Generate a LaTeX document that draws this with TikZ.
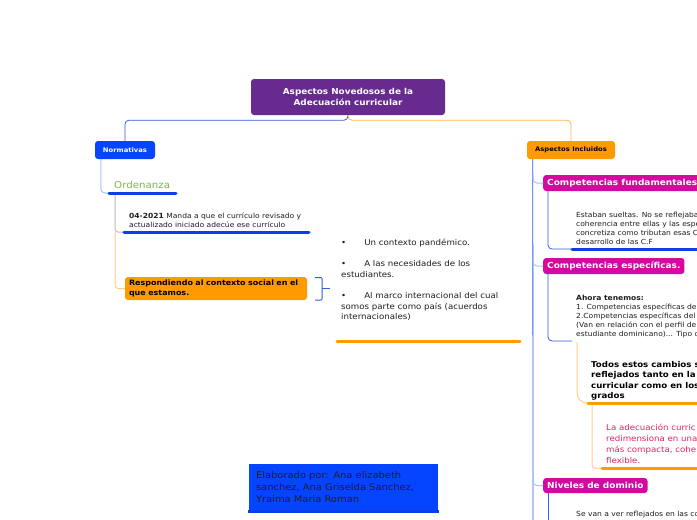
\documentclass[tikz,border=0pt]{standalone}
\usepackage{fontspec}
\setmainfont{DejaVu Sans}[FakeStretch=1.08]
\usetikzlibrary{calc}
\definecolor{rootpurple}{HTML}{672A8E}
\definecolor{nblue}{HTML}{0545FF}
\definecolor{ulblue}{HTML}{0A3FE8}
\definecolor{lineblue}{HTML}{2F5FE0}
\definecolor{lightblue}{HTML}{A8BFFF}
\definecolor{orange1}{HTML}{FF9A00}
\definecolor{lorange}{HTML}{FFCF8A}
\definecolor{lineorange}{HTML}{FFB44A}
\definecolor{magenta1}{HTML}{D20A9F}
\definecolor{pinktext}{HTML}{E0245E}
\definecolor{ordgreen}{HTML}{7DB54A}
\definecolor{graybrown}{HTML}{C8B8B8}
\definecolor{darktext}{HTML}{1E1E1E}
\begin{document}
\begin{tikzpicture}[x=1pt,y=-1pt,
  box/.style={rounded corners=3pt, inner sep=0pt, align=center},
  txt/.style={anchor=base west, inner sep=0pt, text=darktext, font=\fontsize{7}{8}\selectfont},
  txtb/.style={anchor=base west, inner sep=0pt, text=darktext, font=\fontsize{8}{10}\selectfont},
  tdtxt/.style={anchor=base west, inner sep=0pt, text=black, font=\bfseries\fontsize{8}{10}\selectfont},
  latxt/.style={anchor=base west, inner sep=0pt, text=pinktext, font=\fontsize{8}{10}\selectfont},
  uline/.style={line width=3pt, line cap=round},
  thinb/.style={draw=lineblue, line width=0.8pt},
  thinlb/.style={draw=lightblue, line width=1pt},
  thino/.style={draw=lineorange, line width=0.8pt},
  thinlo/.style={draw=lorange, line width=1pt},
  magbox/.style={box, fill=magenta1, anchor=west, minimum height=16pt, inner xsep=4pt, text=white, font=\bfseries\fontsize{8.3}{10}\selectfont}
]
\useasboundingbox (0,0) rectangle (697,520);
\fill[white] (0,0) rectangle (697,520);
\begin{scope}
\clip (0,0) rectangle (697,520);

% main nodes
\node[box, fill=rootpurple, minimum width=194pt, minimum height=36pt, text=white,
  font=\bfseries\fontsize{8.2}{11}\selectfont] (root) at (348,97) {Aspectos Novedosos de la\\Adecuación curricular};
\node[box, fill=nblue, minimum width=60pt, minimum height=18pt, text=white,
  font=\bfseries\fontsize{6.3}{8}\selectfont] (norm) at (125,150) {Normativas};
\node[box, fill=orange1, minimum width=88pt, minimum height=18pt, text=black,
  font=\bfseries\fontsize{6.3}{8}\selectfont] (asp) at (571,150) {Aspectos Incluidos};

% root connectors
\draw[thinb, rounded corners=4pt] (root.south) -- ++(0,5) -| (norm.north);
\draw[thino, rounded corners=4pt] (root.south) -- ++(0,5) -| (asp.north);

% ---- left branch
\node[anchor=base west, inner sep=0pt, text=ordgreen, font=\fontsize{9.5}{11}\selectfont] (ord) at (114,188) {Ordenanza};
\coordinate (normS) at ($(norm.south west)+(6,0)$);
\coordinate (ordL) at (109,193);
\coordinate (ordR) at (176,193);
\coordinate (ordS) at (115,193);
\coordinate (ordM) at (115,232);
\coordinate (n1L) at (124,232);
\coordinate (n1R) at (309,232);
\draw[thinlb, rounded corners=4pt] (normS) |- (ordL);
\draw[draw=graybrown, line width=1pt, rounded corners=3pt] (ordS) |- (n1L);

\node[txt] (n1a) at (129,218) {\textbf{04-2021} Manda a que el currículo revisado y};
\node[txt] (n1b) at (129,227) {actualizado iniciado adecúe ese currículo};

\node[box, fill=orange1, minimum width=182pt, minimum height=23pt, align=left, text width=174pt,
  text=black, font=\bfseries\fontsize{7.4}{9.6}\selectfont] (resp) at (216,288.5) {Respondiendo al contexto social en el\\que estamos.};
\draw[thinlo, rounded corners=3pt] (ordM) |- (resp.west);

\draw[uline, ulblue] (ordL) -- (ordR);
\draw[uline, ulblue] (n1L) -- (n1R);

% bracket
\coordinate (brT) at (315,277.5);
\coordinate (brB) at (315,300);
\coordinate (brTR) at (322,277.5);
\coordinate (brBR) at (322,300);
\coordinate (brM) at (322,288.5);
\coordinate (brTip) at (330,288.5);
\draw[draw=lineblue, line width=1pt, rounded corners=1pt] (brT) -- (brTR) -- (brBR) -- (brB);
\draw[draw=lineblue, line width=1pt] (brM) -- (brTip);

% bullets
\node[txtb] (b1) at (341,245) {•\hspace{18pt}Un contexto pandémico.};
\node[txtb] (b2) at (341,266) {•\hspace{18pt}A las necesidades de los};
\node[txtb] (b3) at (341,277) {estudiantes.};
\node[txtb] (b4) at (341,298) {•\hspace{18pt}Al marco internacional del cual};
\node[txtb] (b5) at (341,309) {somos parte como país (acuerdos};
\node[txtb] (b6) at (341,319) {internacionales)};
\coordinate (bulL) at (337,341);
\coordinate (bulR) at (520,341);
\draw[uline, orange1] (bulL) -- (bulR);

% ---- right branch
\coordinate (aspS) at ($(asp.south west)+(6,0)$);
\coordinate (aspEnd) at (533,525);
\draw[thinb] (aspS) -- (aspEnd);

\node[magbox] (cf) at (543,183) {Competencias fundamentales:};
\node[magbox] (ce) at (543,266) {Competencias específicas.};
\node[magbox, minimum height=15pt] (nd) at (543,485.5) {Niveles de dominio};

\coordinate (cfB) at (533,174);
\coordinate (ceB) at (533,257);
\coordinate (ndB) at (533,477);
\draw[thinlb, rounded corners=4pt] (cfB) |- (cf.west);
\draw[thinlb, rounded corners=4pt] (ceB) |- (ce.west);
\draw[thinlb, rounded corners=4pt] (ndB) |- (nd.west);

% cf content
\coordinate (cfV) at (548,191);
\coordinate (cfUL) at (572,249);
\coordinate (cfUR) at (705,249);
\draw[thinb, rounded corners=4pt] (cfV) |- (cfUL);
\node[txt] (cf1) at (576,217) {Estaban sueltas. No se reflejaba};
\node[txt] (cf2) at (576,226) {coherencia entre ellas y las espe};
\node[txt] (cf3) at (576,235) {concretiza como tributan esas C};
\node[txt] (cf4) at (576,244) {desarrollo de las C.F};
\draw[uline, ulblue] (cfUL) -- (cfUR);

% ce content
\coordinate (ceV) at (548,274);
\coordinate (ceUL) at (572,341);
\coordinate (ceUR) at (705,341);
\draw[thinb, rounded corners=4pt] (ceV) |- (ceUL);
\node[txt] (ce1) at (576,300) {\textbf{Ahora tenemos:}};
\node[txt] (ce2) at (576,309) {1. Competencias específicas del};
\node[txt] (ce3) at (576,318) {2.Competencias específicas del};
\node[txt] (ce4) at (576,327) {(Van en relación con el perfil de};
\node[txt] (ce5) at (576,336) {estudiante dominicano)... Tipo d};

% todos
\coordinate (tdS) at (577,342);
\coordinate (tdUL) at (588,403);
\coordinate (tdUR) at (705,403);
\draw[thinlo, rounded corners=10pt] (tdS) |- (tdUL);
\node[tdtxt] (td1) at (591,367) {Todos estos cambios s};
\node[tdtxt] (td2) at (591,377.5) {reflejados tanto en la};
\node[tdtxt] (td3) at (591,388) {curricular como en los};
\node[tdtxt] (td4) at (591,398.5) {grados};

% la adecuacion
\coordinate (laS) at (592,404);
\coordinate (laUL) at (602,468);
\coordinate (laUR) at (705,468);
\draw[thinlo, rounded corners=3pt] (laS) |- (laUL);
\draw[uline, orange1] (tdUL) -- (tdUR);
\node[latxt] (la1) at (606,430) {La adecuación curric};
\node[latxt] (la2) at (606,441) {redimensiona en una};
\node[latxt] (la3) at (606,452) {más compacta, cohe};
\node[latxt] (la4) at (606,463) {flexible.};
\draw[uline, orange1] (laUL) -- (laUR);

% niveles content
\coordinate (ndV) at (548,493);
\coordinate (ndEnd) at (548,525);
\draw[thinb] (ndV) -- (ndEnd);
\node[txt] (nd1) at (576,516.5) {Se van a ver reflejados en las co};

% elaborado
\node[fill=nblue, minimum width=189pt, minimum height=47pt, inner sep=0pt, text width=175pt, align=left,
  text=darktext, font=\fontsize{9.2}{12}\selectfont] (elab) at (343.5,487.5) {Elaborado por: Ana elizabeth\\sanchez, Ana Griselda Sanchez,\\Yraima Maria Roman};
\coordinate (elL) at (248,511);
\coordinate (elR) at (439,511);
\draw[uline, ulblue, line cap=butt] (elL) -- (elR);

\end{scope}
\end{tikzpicture}
\end{document}
